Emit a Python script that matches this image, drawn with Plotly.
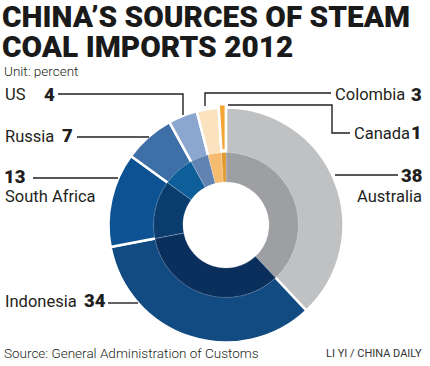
import plotly.graph_objects as go

# ---- data ----
countries = ["Australia", "Indonesia", "South Africa", "Russia", "US", "Colombia", "Canada"]
shares = [38, 34, 13, 7, 4, 3, 1]
outer_colors = ["#C0C1C3", "#124A82", "#0D5394", "#3E6FA6", "#8BA7CF", "#FCE3C0", "#F4A533"]
inner_colors = ["#9D9FA2", "#0A2F5C", "#0A3D6E", "#0E5E99", "#6083B2", "#F5BC70", "#E39A2D"]
outer_pull = [0, 0, 0, 0, 0, 0, 0.03]

W, H = 430, 366
CX, CY = 226, 225
R_OUT, R_MID, R_HOLE = 117.5, 72.5, 43


def px(x):
    return x / W


def py(y):
    return 1 - y / H


def dom(r):
    return dict(x=[px(CX - r), px(CX + r)], y=[py(CY + r), py(CY - r)])


fig = go.Figure()
mp = max(outer_pull)
fig.add_trace(go.Pie(
    labels=countries, values=shares, sort=False, direction="clockwise", rotation=0,
    hole=71 / R_OUT, pull=outer_pull,
    marker=dict(colors=outer_colors, line=dict(color="white", width=2.5)),
    textinfo="none", hoverinfo="label+value", showlegend=False,
    domain=dom(R_OUT * (1 + mp)),
))
fig.add_trace(go.Pie(
    labels=countries, values=shares, sort=False, direction="clockwise", rotation=0,
    hole=R_HOLE / R_MID,
    marker=dict(colors=inner_colors, line=dict(color="rgba(255,255,255,0.35)", width=0.6)),
    textinfo="none", hoverinfo="label+value", showlegend=False,
    domain=dom(R_MID),
))

LC = "#231F20"
NAME_FONT = dict(family="Roboto", size=16.5, color=LC)
NUM_FONT = dict(family="Roboto", size=18.5, color=LC, weight=900)

annots = []


def txt(text, x, y, font, xanchor="left", h=None):
    a = dict(text=text, x=px(x), y=py(y), xref="paper", yref="paper",
             xanchor=xanchor, yanchor="middle", showarrow=False, font=font)
    if h:
        a["height"] = h
    annots.append(a)


# title
TITLE_FONT = dict(family="Roboto", size=29.8, color="#1a1a1a", weight=900)
txt("CHINA’S SOURCES OF STEAM", 0, 16, TITLE_FONT, h=28)
txt("COAL IMPORTS 2012", 0, 46, TITLE_FONT, h=28)
txt("Unit: percent", 2, 70, dict(family="Roboto", size=13.5, color=LC, weight=300), h=15)

# labels
txt("US", 3, 95, NAME_FONT)
txt("4", 42, 95, NUM_FONT)
txt("Russia", 3, 136, NAME_FONT)
txt("7", 60, 136, NUM_FONT)
txt("13", 2, 177, NUM_FONT)
txt("South Africa", 3, 196, NAME_FONT)
txt("Indonesia", 3, 301, NAME_FONT)
txt("34", 82, 301, NUM_FONT)
txt("38", 424, 176, NUM_FONT, "right")
txt("Australia", 424, 196, NAME_FONT, "right")
txt("Colombia", 333, 95, NAME_FONT)
txt("3", 424, 95, NUM_FONT, "right")
txt("Canada", 352, 133, NAME_FONT)
txt("1", 424, 133, NUM_FONT, "right")

# footer
FOOT = dict(family="Roboto", size=13.5, color=LC, weight=300)
txt("Source: General Administration of Customs", 2, 353, FOOT)
txt("LI YI / CHINA DAILY", 424, 353,
    dict(family="Liberation Sans Narrow, Roboto", size=11, color="#333333"), "right")

fig.update_layout(annotations=annots)

# leader lines (pixel paths converted to paper)
leaders = [
    [(58, 94), (183, 94), (183, 115)],
    [(77, 137), (149, 137)],
    [(33, 178), (118, 178)],
    [(108, 303), (138, 303)],
    [(335, 175), (398, 175)],
    [(205, 106), (205, 93), (331, 93)],
    [(228, 105), (332, 105), (332, 133), (350, 133)],
]
shapes = []
for pts in leaders:
    d = "M " + " L ".join(f"{px(x):.5f},{py(y):.5f}" for x, y in pts)
    shapes.append(dict(type="path", path=d, xref="paper", yref="paper",
                       line=dict(color=LC, width=1.4)))
fig.update_layout(shapes=shapes)

fig.update_layout(width=W, height=H, margin=dict(l=0, r=0, t=0, b=0),
                  paper_bgcolor="white", plot_bgcolor="white")
fig.write_html("out.html", config={"displayModeBar": False},
               post_script="document.body.style.margin='0px';document.body.style.overflow='hidden';")
